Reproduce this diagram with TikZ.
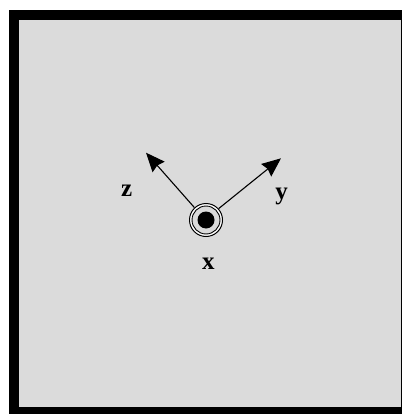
\documentclass[tikz,border=0pt]{standalone}
\usepackage{fontspec}
\setmainfont{Liberation Serif}
\usetikzlibrary{arrows.meta}
\definecolor{panelgray}{HTML}{DBDBDB}
\tikzset{
  axislabel/.style={font=\fontsize{25}{25}\selectfont\bfseries, inner sep=0pt, anchor=base},
  axisarrow/.style={line width=1.1pt, -{Stealth[length=19pt,width=16pt,inset=2pt]}},
}
\begin{document}
\begin{tikzpicture}[x=1pt,y=-1pt]
\useasboundingbox (0,0) rectangle (402,414);
% frame
\fill[black] (9,10) rectangle (402,414);
\fill[panelgray] (19,20) rectangle (400.5,406.5);
% x-axis symbol (out of the page)
\node[circle, draw=black, fill=white, line width=1pt, minimum size=33pt, inner sep=0pt] (outer) at (206,220) {};
\node[circle, draw=black, fill=panelgray, line width=0.9pt, minimum size=28pt, inner sep=0pt] (inner) at (206,220) {};
\node[circle, fill=black, minimum size=17pt, inner sep=0pt] (dot) at (206,220) {};
% arrow tips
\coordinate (ztip) at (146,152.7);
\coordinate (ytip) at (281,158.3);
\draw[axisarrow] (outer.133) -- (ztip);
\draw[axisarrow] (outer.42) -- (ytip);
% labels
\node[axislabel] (zl) at (126.7,196.9) {z};
\node[axislabel] (yl) at (281.5,199.7) {y};
\node[axislabel] (xl) at (208.3,269.5) {x};
\end{tikzpicture}
\end{document}
